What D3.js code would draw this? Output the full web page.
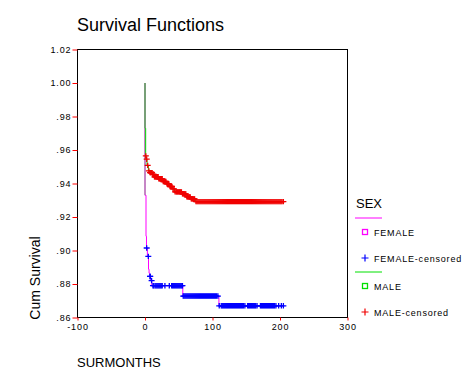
<!DOCTYPE html>
<html><head><meta charset="utf-8">
<script src="https://cdn.jsdelivr.net/npm/d3@7"></script>
<style>body{margin:0;background:#fff}svg{display:block;font-family:Arial,"Liberation Sans",sans-serif}</style>
</head><body><svg id="c" width="476" height="381"></svg>
<script>
// ---- data ----
const xTicks = [-100, 0, 100, 200, 300];
const xTickLabels = ["-100", "0", "100", "200", "300"];
const yTicks = [0.86, 0.88, 0.90, 0.92, 0.94, 0.96, 0.98, 1.00, 1.02];
const yTickLabels = [".86", ".88", ".90", ".92", ".94", ".96", ".98", "1.00", "1.02"];
// survival steps: [time, survival after event]
const femaleSteps = [[0,0.933],[1.5,0.9085],[2.2,0.9015],[3.5,0.8965],[5.2,0.8888],[6,0.8865],[7,0.8845],[8.5,0.882],[10,0.879],[56,0.8728],[109.5,0.867]];
const maleSteps = [[0,0.973],[1,0.9565],[1.5,0.9545],[3,0.9508],[5,0.9475],[7,0.9465],[11,0.9455],[14,0.944],[20,0.9428],[27,0.9412],[32,0.9398],[37,0.9382],[41,0.9368],[44,0.935],[55,0.9338],[62,0.932],[68,0.9308],[75,0.9292]];
const femaleCensored = [2.5,4.9,7.4,7.8,9.8,11.8,13,15,16.5,18,19.5,21,22.5,24,25.5,29.5,36,39.5,41,42.5,44,45.5,47,48.5,50,51.5,53,54.5,55.5,
  56.6,58,59.5,61,62.5,64,65.5,67,68.5,70,71.5,73,74.5,76,77.5,79,80.5,82,83.5,85,86.5,88,89.5,91,92.5,94,95.5,97,98.5,100,101.5,103,104.5,106,108,
  110,113,114.5,116,117.5,119,120.5,122,123.5,125,126.5,128,129.5,131,132.5,134,135.5,137,138.5,140,141.5,143,144.5,146,148,
  152,153.5,155,156.5,158,159.5,161,162.5,164,166,171,172.5,174,175.5,177,178.5,180,181.5,183,184.5,186,187.5,189,190.5,192,194,198,202,205];
const maleCensored = [1.2,2.5,4,5.8,7.5,8.2,9,9.8,10.5,11.5,12.3,13,14,14.8,15.5,16.5,17.5,18.5,19.5,20.5,21.5,22.5,23.5,24.5,25.5,27,28,29,30,31,32.5,33.5,34.5,35.5,
  37,38,39,40,41.5,43,44.5,46,47,48,49,50,51,52,53,54,55.5,56.5,57.5,58.5,59.5,60.5,62,63,64,65,66,67,68.5,69.5,70.5,71.5,72.5,73.5,
  75.5,77,78.5,80,81.5,83,84.5,86,87.5,89,90.5,92,93.5,95,96.5,98,99.5,101,102.5,104,105.5,107,108.5,110,111.5,113,114.5,116,117.5,119,120.5,122,123.5,125,
  126.5,128,129.5,131,132.5,134,135.5,137,138.5,140,141.5,143,144.5,146,147.5,149,150.5,152,153.5,155,156.5,158,159.5,161,162.5,164,165.5,167,168.5,170,
  171.5,173,174.5,176,177.5,179,180.5,182,183.5,185,186.5,188,189.5,191,192.5,194,195.5,197,198.5,200,201.5,203,205];
const curveEnd = 205;
const legendItems = ["FEMALE","FEMALE-censored","MALE","MALE-censored"];

// ---- drawing ----
const svg = d3.select("#c");
const L = 77.5, R = 347.5, T = 49.5, B = 317.5;
const x = d3.scaleLinear().domain([-100, 300]).range([L, R]);
const y = d3.scaleLinear().domain([0.86, 1.02]).range([B, T]);

svg.append("text").attr("x", 77).attr("y", 31).attr("font-size", 18).attr("fill", "#000").text("Survival Functions");

// frame
svg.append("rect").attr("x", L).attr("y", T).attr("width", R - L).attr("height", B - T)
  .attr("fill", "none").attr("stroke", "#000").attr("stroke-width", 1);

// y axis
const gy = svg.append("g").attr("transform", `translate(${L},0)`)
  .call(d3.axisLeft(y).tickValues(yTicks).tickSize(5).tickFormat((d, i) => yTickLabels[i]));
gy.select(".domain").remove();
gy.selectAll("line").attr("stroke", "#f00");
gy.selectAll("text").attr("font-size", 9).attr("letter-spacing", 0.9).attr("fill", "#000").attr("x", -6)
  .attr("font-family", "Arial, 'Liberation Sans', sans-serif");

// x axis
const gx = svg.append("g").attr("transform", `translate(0,${B})`)
  .call(d3.axisBottom(x).tickValues(xTicks).tickSize(3).tickFormat((d, i) => xTickLabels[i]));
gx.select(".domain").remove();
gx.selectAll("line").attr("stroke", "#f00");
gx.selectAll("text").attr("font-size", 9).attr("letter-spacing", 0.9).attr("fill", "#000").attr("y", 6)
  .attr("font-family", "Arial, 'Liberation Sans', sans-serif");

// axis titles
svg.append("text").attr("transform", "translate(40,278) rotate(-90)").attr("text-anchor", "middle")
  .attr("font-size", 14).attr("fill", "#000").text("Cum Survival");
svg.append("text").attr("x", 77).attr("y", 367).attr("font-size", 13).attr("fill", "#000").text("SURMONTHS");

function stepPath(steps) {
  let p = `M${x(0)},${y(1)}`;
  steps.forEach(([t, s]) => { p += `H${x(t)}V${y(s)}`; });
  p += `H${x(curveEnd)}`;
  return p;
}
function levelAt(steps, t) {
  let s = 1;
  steps.forEach(st => { if (st[0] <= t) s = st[1]; });
  return s;
}
function drawCurve(steps, color) {
  svg.append("path").attr("d", stepPath(steps)).attr("fill", "none").attr("stroke", color).attr("stroke-width", 1);
  // initial drop at time 0 shown in grey
  steps.filter(s => s[0] === 0).forEach(s => {
    svg.append("line").attr("x1", x(0)).attr("x2", x(0)).attr("y1", y(1)).attr("y2", y(s[1]))
      .attr("stroke", "#8c8c8c").attr("stroke-width", 1);
  });
}
const cross = "M-3,0H3M0,-2.7V2.7";
function drawCensored(times, steps, color) {
  svg.append("g").selectAll("path").data(times).join("path")
    .attr("transform", t => `translate(${x(t)},${y(levelAt(steps, t))})`)
    .attr("d", cross).attr("stroke", color).attr("stroke-width", 1.3).attr("fill", "none");
}
drawCurve(femaleSteps, "#ff00ff");
drawCensored(femaleCensored, femaleSteps, "#0000ff");
drawCurve(maleSteps, "#00e000");
drawCensored(maleCensored, maleSteps, "#f00000");

// legend
const lg = svg.append("g");
lg.append("text").attr("x", 356).attr("y", 208).attr("font-size", 13).attr("fill", "#000").text("SEX");
const rowY = [232, 258, 286, 312];
const lineY = [218, 272];
const colors = ["#ff00ff", "#0000ff", "#00e000", "#f00000"];
lineY.forEach((ly, i) => lg.append("line").attr("x1", 355).attr("x2", 382).attr("y1", ly).attr("y2", ly)
  .attr("stroke", colors[i * 2]).attr("stroke-width", 1));
legendItems.forEach((name, i) => {
  const cy = rowY[i];
  if (i % 2 === 0) {
    lg.append("rect").attr("x", 362.5).attr("y", cy - 2.5).attr("width", 5).attr("height", 5)
      .attr("fill", "none").attr("stroke", colors[i]).attr("stroke-width", 1.3);
  } else {
    lg.append("path").attr("transform", `translate(365,${cy})`).attr("d", "M-3.5,0H3.5M0,-3.5V3.5")
      .attr("stroke", colors[i]).attr("stroke-width", 1.2);
  }
  lg.append("text").attr("x", 374).attr("y", cy + 3.5).attr("font-size", 9).attr("letter-spacing", 0.8)
    .attr("fill", "#000").text(name);
});
</script></body></html>
